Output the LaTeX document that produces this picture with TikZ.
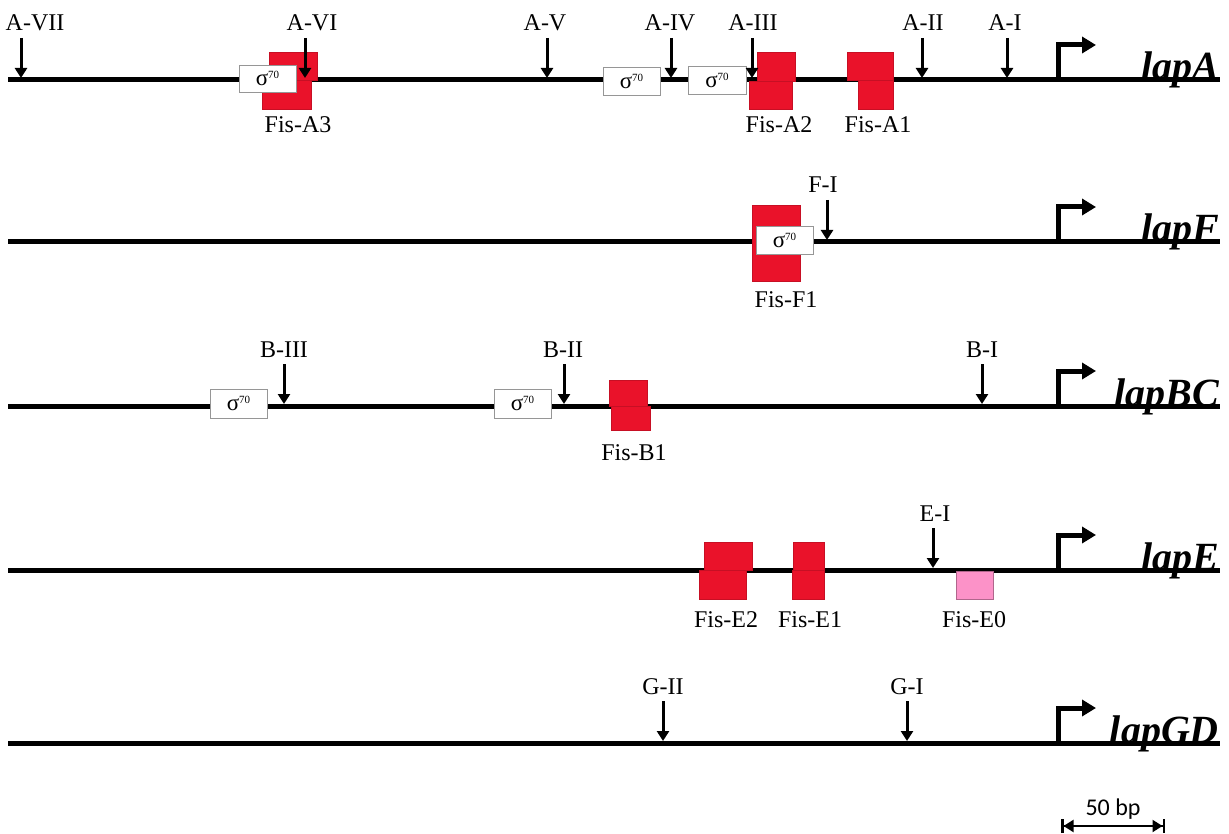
\documentclass[tikz,border=0pt]{standalone}
\usepackage{fontspec}
\setmainfont{Liberation Serif}
\newfontfamily\calibfont{Carlito}
\usetikzlibrary{arrows.meta}
\definecolor{fisred}{RGB}{234,18,42}
\definecolor{fispink}{RGB}{252,146,200}
\definecolor{boxgray}{RGB}{150,150,150}
\tikzset{
  dna/.style={line width=5pt, black},
  fisbox/.style={fill=fisred, draw=fisred!85!black, line width=0.5pt},
  pinkbox/.style={fill=fispink, draw=fispink!70!black, line width=0.5pt},
  sigbox/.style={draw=boxgray, fill=white, line width=0.9pt, rectangle, inner sep=0pt},
  lbl/.style={anchor=base, inner sep=0pt, font=\fontsize{24}{28}\selectfont},
  gene/.style={anchor=base east, inner sep=0pt, font=\fontsize{40}{44}\selectfont\bfseries\itshape},
  sitearrow/.style={line width=3pt, -{Triangle[length=10pt,width=12pt]}},
  promoter/.style={line width=5pt, -{Triangle[length=14pt,width=16pt]}},
}
\newcommand\mksite[5]{%
  \node[lbl] (#1) at (#4,#3-49) {#5};
  \coordinate (#1t) at (#2,#3-42);
  \coordinate (#1b) at (#2,#3-2);
  \draw[sitearrow] (#1t) -- (#1b);}
\newcommand\sigtext{{\fontsize{23}{23}\selectfont σ\raisebox{7pt}{\fontsize{11}{11}\selectfont 70}}}
\newcommand\mkgene[3]{%
  \coordinate (#1L) at (8,#2);
  \coordinate (#1R) at (1220,#2);
  \draw[dna] (#1L) -- (#1R);
  \coordinate (#1p) at (1058,#2+2);
  \coordinate (#1q) at (1058,#2-35);
  \coordinate (#1r) at (1096,#2-35);
  \draw[promoter] (#1p) -- (#1q) -- (#1r);
  \node[gene] (#1name) at (1219,#2) {#3};}
\begin{document}
\begin{tikzpicture}[x=1pt,y=-1pt]
\useasboundingbox (0,0) rectangle (1229,834);

% ---------- lapA ----------
\mkgene{A}{80}{lapA}
\draw[fisbox] (269,52) rectangle (317,80);
\draw[fisbox] (262,80) rectangle (311,109);
\draw[fisbox] (757,52) rectangle (795,81);
\draw[fisbox] (749,81) rectangle (792,109);
\draw[fisbox] (847,52) rectangle (893,80);
\draw[fisbox] (858,80) rectangle (893,109);
\node[sigbox, minimum width=57pt, minimum height=27pt] (sA1) at (267.5,78.5) {\sigtext};
\node[sigbox, minimum width=57pt, minimum height=28pt] (sA2) at (631.5,81) {\sigtext};
\node[sigbox, minimum width=58pt, minimum height=28pt] (sA3) at (717,80.5) {\sigtext};
\mksite{a7}{21}{80}{35}{A-VII}
\mksite{a6}{305}{80}{312}{A-VI}
\mksite{a5}{547}{80}{545}{A-V}
\mksite{a4}{671}{80}{670}{A-IV}
\mksite{a3}{752}{80}{753}{A-III}
\mksite{a2}{922}{80}{923}{A-II}
\mksite{a1}{1007}{80}{1005}{A-I}
\node[lbl] (fA3) at (298,133) {Fis-A3};
\node[lbl] (fA2) at (779,133) {Fis-A2};
\node[lbl] (fA1) at (878,133) {Fis-A1};

% ---------- lapF ----------
\mkgene{F}{242}{lapF}
\draw[fisbox] (752,205) rectangle (800,281);
\node[sigbox, minimum width=57pt, minimum height=28pt] (sF1) at (784.5,240) {\sigtext};
\mksite{f1}{827}{242}{823}{F-I}
\node[lbl] (fF1) at (786,308) {Fis-F1};

% ---------- lapBC ----------
\mkgene{B}{406}{lapBC}
\node[sigbox, minimum width=57pt, minimum height=29pt] (sB1) at (238.5,403.5) {\sigtext};
\node[sigbox, minimum width=57pt, minimum height=29pt] (sB2) at (522.5,403.5) {\sigtext};
\draw[fisbox] (609,380) rectangle (647,406);
\draw[fisbox] (611,406) rectangle (650,430);
\mksite{b3}{284}{406}{284}{B-III}
\mksite{b2}{564}{406}{563}{B-II}
\mksite{b1}{982}{406}{982}{B-I}
\node[lbl] (fB1) at (634,460) {Fis-B1};

% ---------- lapE ----------
\mkgene{E}{570}{lapE}
\draw[fisbox] (704,542) rectangle (752,570);
\draw[fisbox] (699,570) rectangle (746,599);
\draw[fisbox] (793,542) rectangle (824,570);
\draw[fisbox] (792,570) rectangle (824,599);
\draw[pinkbox] (956,571) rectangle (993,599);
\mksite{e1}{933}{570}{935}{E-I}
\node[lbl] (fE2) at (726,627) {Fis-E2};
\node[lbl] (fE1) at (810,627) {Fis-E1};
\node[lbl] (fE0) at (974,627) {Fis-E0};

% ---------- lapGD ----------
\mkgene{G}{743}{lapGD}
\mksite{g2}{663}{743}{663}{G-II}
\mksite{g1}{907}{743}{907}{G-I}

% ---------- scale bar ----------
\coordinate (sbL) at (1061,826);
\coordinate (sbR) at (1165,826);
\draw[line width=2pt, {Bar[width=14pt,line width=2.5pt]Triangle[length=10pt,width=12pt]}-{Triangle[length=10pt,width=12pt]Bar[width=14pt,line width=2.5pt]}] (sbL) -- (sbR);
\node[anchor=base, inner sep=0pt, font=\calibfont\fontsize{24}{28}\selectfont] (sbt) at (1113,815) {50 bp};
\end{tikzpicture}
\end{document}
